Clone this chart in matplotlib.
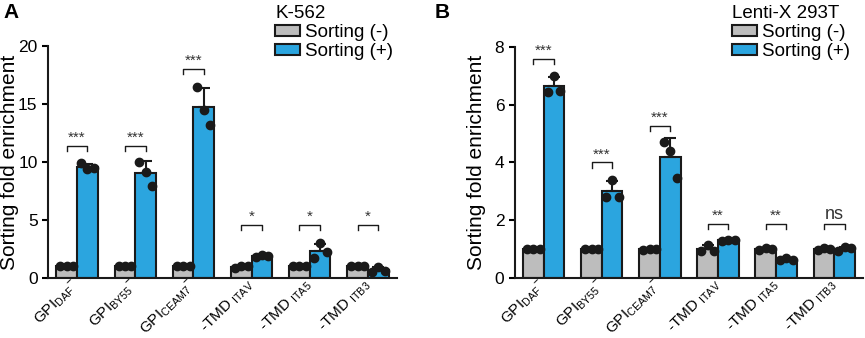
import numpy as np
import matplotlib.pyplot as plt

plt.rcParams['font.family'] = ['Liberation Sans', 'DejaVu Sans']
plt.rcParams['mathtext.default'] = 'regular'

labels = ['GPI$_{DAF}$$^{-}$', 'GPI$_{BY55}$$^{-}$', 'GPI$_{CEAM7}$$^{-}$',
          '-TMD $_{ITAV}$', '-TMD $_{ITA5}$', '-TMD $_{ITB3}$']

# K-562 replicates (three per condition)
k562_neg = [[1.0, 1.0, 1.0], [1.0, 1.0, 1.0], [1.0, 1.0, 1.0],
            [0.9, 1.05, 1.02], [1.0, 1.0, 1.0], [1.0, 1.0, 1.0]]
k562_pos = [[9.9, 9.4, 9.45], [10.0, 9.1, 7.95], [16.5, 14.5, 13.2],
            [1.85, 2.0, 1.9], [1.75, 3.0, 2.25], [0.55, 0.95, 0.6]]
k562_sig = ['***', '***', '***', '*', '*', '*']
k562_brk = [11.4, 11.4, 18.0, 4.55, 4.55, 4.55]

# Lenti-X 293T replicates
lenti_neg = [[1.0, 1.0, 1.0], [1.0, 1.0, 1.0], [0.97, 1.02, 1.02],
             [0.92, 1.15, 0.95], [0.98, 1.05, 1.0], [0.97, 1.03, 1.0]]
lenti_pos = [[6.45, 7.0, 6.48], [2.8, 3.4, 2.82], [4.72, 4.4, 3.48],
             [1.28, 1.33, 1.3], [0.62, 0.68, 0.62], [0.95, 1.07, 1.04]]
lenti_sig = ['***', '***', '***', '**', '**', 'ns']
lenti_brk = [7.57, 4.0, 5.26, 1.87, 1.87, 1.87]

gray = '#BDBDBD'
blue = '#2BA5DF'
w = 0.355


def panel(ax, neg, pos, sig, brk, ymax, yticks, title, letter, lx, letx):
    x = np.arange(len(labels))
    bars = []
    for vals, off, col in [(neg, -w / 2, gray), (pos, w / 2, blue)]:
        vals = np.array(vals)
        m = vals.mean(axis=1)
        sd = vals.std(axis=1, ddof=1)
        b = ax.bar(x + off, m, w, color=col, edgecolor='#1a1a1a', linewidth=1.5, zorder=2)
        bars.append(b)
        ax.errorbar(x + off, m, yerr=[np.zeros_like(sd), sd], fmt='none',
                    ecolor='#1a1a1a', elinewidth=1.5, capsize=4, capthick=1.5, zorder=3)
        for i in range(len(x)):
            ax.plot(x[i] + off + np.array([-0.11, 0, 0.11]), vals[i], 'o',
                    color='#1a1a1a', ms=6, zorder=4)
    drop = ymax * 0.022
    for i in range(len(x)):
        x0, x1 = x[i] - w / 2, x[i] + w / 2
        ax.plot([x0, x0, x1, x1], [brk[i] - drop, brk[i], brk[i], brk[i] - drop],
                color='#1a1a1a', lw=1.0, zorder=3)
        fs = 13 if sig[i] == 'ns' else 11
        ax.text(x[i], brk[i] + ymax * 0.005, sig[i], ha='center', va='bottom',
                fontsize=fs, color='#333333')
    ax.set_xlim(-0.5, 5.5)
    ax.set_ylim(0, ymax)
    ax.set_yticks(yticks)
    ax.set_xticks(x)
    ax.set_xticklabels(labels, rotation=45, ha='right', va='center',
                       rotation_mode='anchor', fontsize=11)
    ax.tick_params(axis='y', labelsize=12.5, width=1.5, length=4)
    ax.tick_params(axis='x', length=0, pad=3)
    for s in ['top', 'right']:
        ax.spines[s].set_visible(False)
    for s in ['left', 'bottom']:
        ax.spines[s].set_linewidth(1.5)
        ax.spines[s].set_color('#1a1a1a')
    ax.set_ylabel('Sorting fold enrichment', fontsize=15)
    ax.yaxis.set_label_coords(-0.083, 0.5)
    ax.legend(handles=[bars[0], bars[1]], labels=['Sorting (-)', 'Sorting (+)'],
              title=title, alignment='left', frameon=False, fontsize=13.5,
              title_fontsize=13.5, handlelength=1.35, handleheight=0.55,
              handletextpad=0.25, labelspacing=0.1, borderpad=0, borderaxespad=0,
              loc='upper left', bbox_to_anchor=(lx, 0.985),
              bbox_transform=ax.figure.transFigure)
    ax.figure.text(letx, 0.99, letter, fontsize=15, fontweight='bold', va='top')


fig = plt.figure(figsize=(8.65, 3.38), dpi=100)
ax1 = fig.add_axes([0.0555, 0.1775, 0.4035, 0.6865])
ax2 = fig.add_axes([0.595, 0.1775, 0.403, 0.6835])
panel(ax1, k562_neg, k562_pos, k562_sig, k562_brk, 20, [0, 5, 10, 15, 20],
      'K-562', 'A', 0.318, 0.004)
panel(ax2, lenti_neg, lenti_pos, lenti_sig, lenti_brk, 8, [0, 2, 4, 6, 8],
      'Lenti-X 293T', 'B', 0.846, 0.502)
fig.savefig('out.png', dpi=100)
